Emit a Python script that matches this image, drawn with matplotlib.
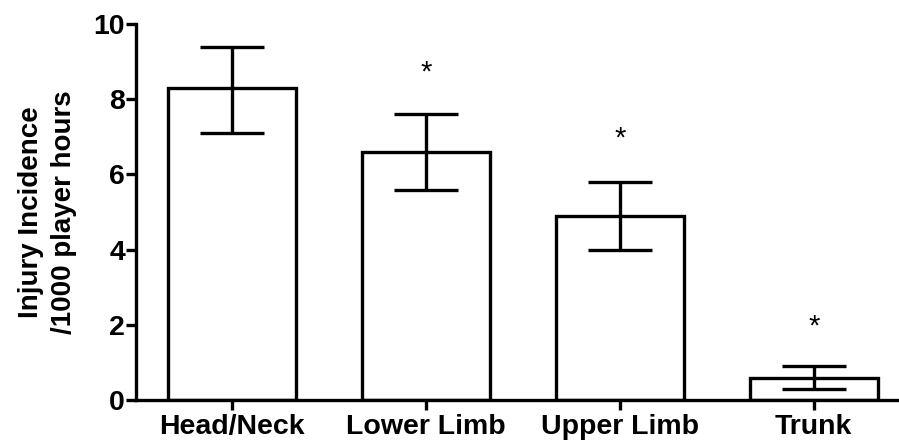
import numpy as np
import matplotlib.pyplot as plt

plt.rcParams['font.family'] = ['Liberation Sans', 'DejaVu Sans']

categories = ['Head/Neck', 'Lower Limb', 'Upper Limb', 'Trunk']
incidence = [8.3, 6.6, 4.9, 0.6]
err_low = [7.1, 5.6, 4.0, 0.3]
err_high = [9.4, 7.6, 5.8, 0.9]
star_y = [None, 8.7, 6.95, 1.95]

fig = plt.figure(figsize=(8.99, 4.46), dpi=100)
ax = fig.add_axes([0.1513, 0.103, 0.8487, 0.843])

x = np.arange(len(categories))
vals = np.array(incidence)
yerr = [vals - np.array(err_low), np.array(err_high) - vals]

ax.bar(x, vals, width=0.66, color='white', edgecolor='black', linewidth=2.4, zorder=2)
ax.errorbar(x, vals, yerr=yerr, fmt='none', ecolor='black', elinewidth=2.4,
            capsize=23, capthick=2.4, zorder=3)

for xi, sy in zip(x, star_y):
    if sy is not None:
        ax.text(xi, sy, '*', ha='center', va='center', fontsize=21)

ax.set_xlim(-0.495, 3.44)
ax.set_ylim(0, 10)
ax.set_yticks([0, 2, 4, 6, 8, 10])
ax.set_xticks(x)
ax.set_xticklabels(categories, fontsize=20.5, fontweight='bold')
for lbl in ax.get_yticklabels():
    lbl.set_fontsize(20.5)
    lbl.set_fontweight('bold')

ax.set_ylabel('Injury Incidence\n/1000 player hours', fontsize=20,
              fontweight='bold', labelpad=12, linespacing=1.35)

ax.spines['top'].set_visible(False)
ax.spines['right'].set_visible(False)
ax.spines['left'].set_linewidth(2.4)
ax.spines['bottom'].set_linewidth(2.4)
ax.tick_params(axis='both', width=2.4, length=7)
ax.tick_params(axis='x', pad=3)
ax.tick_params(axis='y', pad=1)

fig.savefig('out.png', dpi=100)
